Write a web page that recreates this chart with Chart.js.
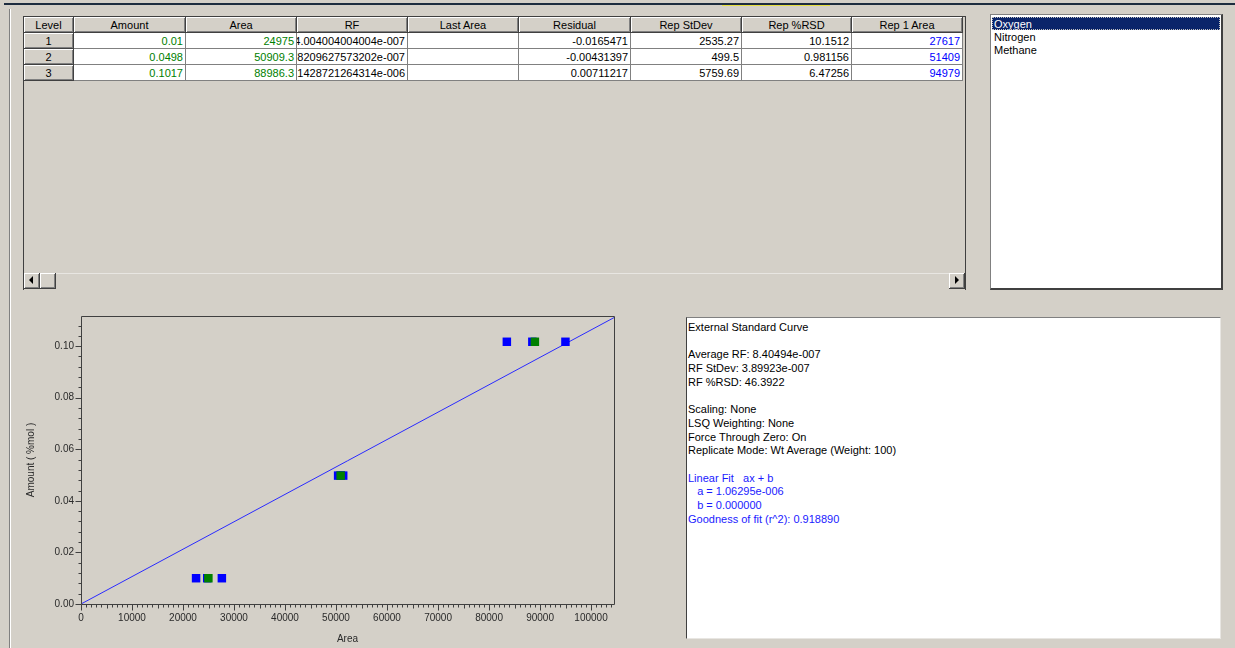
<!DOCTYPE html>
<html>
<head>
<meta charset="utf-8">
<script src="https://cdn.jsdelivr.net/npm/chart.js@4/dist/chart.umd.min.js"></script>
<style>
  html, body { margin: 0; padding: 0; }
  body {
    width: 1235px; height: 648px; overflow: hidden; position: relative;
    background: #d4d0c8; font: 11px "Liberation Sans", Arial, sans-serif; color: #000;
  }
  .abs { position: absolute; box-sizing: border-box; }
  #grid { left: 23px; top: 16px; width: 943px; height: 274px; border: 1px solid #404040; background: #d4d0c8; }
  .cell { position: absolute; box-sizing: border-box; height: 16px; line-height: 17px; white-space: nowrap; overflow: hidden; }
  .head { background: #d4d0c8; text-align: center; border-right: 1px solid #404040; border-bottom: 1px solid #404040;
          box-shadow: inset 1px 1px 0 #fff, inset -1px -1px 0 #808080; }
  .data { background: #fff; border-right: 1px solid #808080; border-bottom: 1px solid #808080;
          display: flex; justify-content: flex-end; padding-right: 2px; }
  .btn { position: absolute; box-sizing: border-box; background: #d4d0c8;
         border-right: 1px solid #404040; border-bottom: 1px solid #404040;
         box-shadow: inset 1px 1px 0 #fff, inset -1px -1px 0 #808080; }
  .tri { position: absolute; width: 0; height: 0; border-top: 4px solid transparent; border-bottom: 4px solid transparent; }
  #list { left: 990px; top: 14px; width: 233px; height: 276px; background: #fff;
          border-top: 1px solid #808080; border-left: 1px solid #808080;
          border-right: 2px solid #404040; border-bottom: 2px solid #404040; }
  .item { position: absolute; left: 1px; right: 1px; height: 13px; line-height: 14px; padding-left: 2px; }
  .item.sel { background: #0a246a; color: #fff; outline: 1px dotted #c0c0c0; outline-offset: -1px; }
  #info { left: 686px; top: 317px; width: 535px; height: 322px; background: #fff;
          border-top: 1px solid #808080; border-left: 1px solid #404040;
          border-right: 1px solid #e8e6e2; border-bottom: 1px solid #e8e6e2;
          padding: 3px 0 0 1px; white-space: pre; line-height: 13.7px; }
  #info .fit { color: #1a1aff; }
  #plot { left: 10px; top: 300px; }
</style>
</head>
<body>
<div class="abs" style="left:4px;top:3px;width:1231px;height:2px;background:#1d2c3f"></div>
<div class="abs" style="left:722px;top:5px;width:108px;height:1px;background:#e8e040"></div>
<div class="abs" style="left:9px;top:9px;width:1px;height:639px;background:#808080"></div>
<div class="abs" style="left:10px;top:9px;width:1px;height:639px;background:#fff"></div>

<div id="grid" class="abs"></div>

<div id="list" class="abs"></div>

<div id="info" class="abs">External Standard Curve

Average RF: 8.40494e-007
RF StDev: 3.89923e-007
RF %RSD: 46.3922

Scaling: None
LSQ Weighting: None
Force Through Zero: On
Replicate Mode: Wt Average (Weight: 100)

<span class="fit">Linear Fit   ax + b
   a = 1.06295e-006
   b = 0.000000
Goodness of fit (r^2): 0.918890</span></div>

<canvas id="plot" class="abs" width="640" height="345"></canvas>

<script>
// calibration levels
const levels = [1, 2, 3];
const amounts = [0.01, 0.0498, 0.1017];
const areas = [24975, 50909.3, 88986.3];
const rfText = ['4.004004004004e-007', '9.78209627573202e-007', '1.1428721264314e-006'];
const residuals = [-0.0165471, -0.00431397, 0.00711217];
const repStdev = [2535.27, 499.5, 5759.69];
const repRsd = [10.1512, 0.981156, 6.47256];
// replicate injections per level (first one is "Rep 1 Area")
const repAreas = [
  [27617, 22562, 24746],
  [51409, 50410, 50909],
  [94979, 83491, 88489]
];
const compounds = ['Oxygen', 'Nitrogen', 'Methane'];

// linear fit through zero
const fitA = 1.06295e-6;
const fitB = 0;

// axes
const xMax = 104500;
const yMax = 0.1117;
const xTicks = [0, 10000, 20000, 30000, 40000, 50000, 60000, 70000, 80000, 90000, 100000];
const yTicks = [0, 0.02, 0.04, 0.06, 0.08, 0.10];

// ---- results grid ----
const grid = document.getElementById('grid');
const colHeads = ['Level', 'Amount', 'Area', 'RF', 'Last Area', 'Residual', 'Rep StDev', 'Rep %RSD', 'Rep 1 Area'];
const colWidths = [50, 112, 111, 111, 111, 112, 111, 110, 111];

function addCell(cls, x, y, w, text, color) {
  const d = document.createElement('div');
  d.className = 'cell ' + cls;
  d.style.left = x + 'px';
  d.style.top = y + 'px';
  d.style.width = w + 'px';
  if (cls === 'data') {
    const s = document.createElement('span');
    s.textContent = text;
    if (color) s.style.color = color;
    d.appendChild(s);
  } else {
    d.textContent = text;
  }
  grid.appendChild(d);
}

let x = 0;
colHeads.forEach((h, c) => { addCell('head', x, 0, colWidths[c], h); x += colWidths[c]; });

levels.forEach((lv, i) => {
  const row = [lv, amounts[i], areas[i], rfText[i], '', residuals[i], repStdev[i], repRsd[i], repAreas[i][0]];
  const colors = [null, '#008000', '#008000', null, null, null, null, null, '#0000ff'];
  let cx = 0;
  row.forEach((v, c) => {
    addCell(c === 0 ? 'head' : 'data', cx, 16 * (i + 1), colWidths[c], String(v), colors[c]);
    cx += colWidths[c];
  });
});

// horizontal scrollbar
function addBtn(x, y, w, h) {
  const b = document.createElement('div');
  b.className = 'btn';
  Object.assign(b.style, { left: x + 'px', top: y + 'px', width: w + 'px', height: h + 'px' });
  grid.appendChild(b);
  return b;
}
const track = document.createElement('div');
Object.assign(track.style, { position: 'absolute', left: '0px', top: '256px', width: '941px', height: '16px',
  background: '#d4d0c8', borderTop: '1px solid #e8e6e2' });
grid.appendChild(track);
const lb = addBtn(0, 256, 16, 16);
const lt = document.createElement('div');
lt.className = 'tri';
Object.assign(lt.style, { left: '5px', top: '3px', borderRight: '4px solid #000' });
lb.appendChild(lt);
addBtn(16, 256, 16, 16);
const rb = addBtn(925, 256, 16, 16);
const rt = document.createElement('div');
rt.className = 'tri';
Object.assign(rt.style, { left: '6px', top: '3px', borderLeft: '4px solid #000' });
rb.appendChild(rt);

// ---- compound list ----
const list = document.getElementById('list');
compounds.forEach((name, i) => {
  const d = document.createElement('div');
  d.className = 'item' + (i === 0 ? ' sel' : '');
  d.style.top = (2 + 13 * i) + 'px';
  d.textContent = name;
  list.appendChild(d);
});

// ---- calibration plot ----
const tickFont = { family: '"Liberation Sans", Arial, sans-serif', size: 10 };
const tickColor = '#2a2a2a';

const axisFrame = {
  id: 'axisFrame',
  afterDraw(chart) {
    const { ctx, chartArea: a, scales } = chart;
    const sx = scales.x, sy = scales.y;
    const L = Math.round(a.left) + 0.5, T = Math.round(a.top) + 0.5;
    const R = Math.round(a.right) + 0.5, B = Math.round(a.bottom) + 0.5;
    ctx.save();
    ctx.strokeStyle = '#404040';
    ctx.lineWidth = 1;
    ctx.beginPath();
    ctx.rect(L, T, R - L, B - T);
    for (let v = 0; v <= sx.max; v += 1000) {
      const px = Math.round(sx.getPixelForValue(v)) + 0.5;
      const len = v % 10000 === 0 ? 6 : (v % 5000 === 0 ? 4 : 3);
      ctx.moveTo(px, B);
      ctx.lineTo(px, B + len);
    }
    for (let i = 0; i * 0.004 <= sy.max + 1e-9; i++) {
      const py = Math.round(sy.getPixelForValue(i * 0.004)) + 0.5;
      const len = i % 5 === 0 ? 6 : 3;
      ctx.moveTo(L - len, py);
      ctx.lineTo(L, py);
    }
    ctx.stroke();
    ctx.restore();
  }
};

new Chart(document.getElementById('plot'), {
  type: 'scatter',
  data: {
    datasets: [
      {
        label: 'Average',
        data: areas.map((a, i) => ({ x: a, y: amounts[i] })),
        backgroundColor: '#008000',
        pointStyle: 'rect',
        pointRadius: 6,
        borderWidth: 0
      },
      {
        label: 'Replicates',
        data: repAreas.flatMap((reps, i) => reps.map(a => ({ x: a, y: amounts[i] }))),
        backgroundColor: '#0000ff',
        pointStyle: 'rect',
        pointRadius: 6,
        borderWidth: 0
      },
      {
        type: 'line',
        label: 'Fit',
        data: [{ x: 0, y: fitB }, { x: xMax, y: fitA * xMax + fitB }],
        borderColor: '#2a2aff',
        borderWidth: 1,
        pointRadius: 0,
        fill: false
      }
    ]
  },
  options: {
    responsive: false,
    animation: false,
    devicePixelRatio: 1,
    layout: { padding: { left: 0, top: 16, right: 36, bottom: 0 } },
    plugins: { legend: { display: false }, tooltip: { enabled: false } },
    scales: {
      x: {
        type: 'linear',
        min: 0,
        max: xMax,
        grid: { display: false, drawTicks: false },
        border: { display: false },
        ticks: { padding: 8, color: tickColor, font: tickFont, maxRotation: 0, autoSkip: false,
                 callback: v => String(v) },
        afterBuildTicks: s => { s.ticks = xTicks.map(v => ({ value: v })); },
        afterFit: s => { s.height = 41; },
        title: { display: true, text: 'Area', color: tickColor, font: tickFont, padding: { top: 7, bottom: 0 } }
      },
      y: {
        type: 'linear',
        min: 0,
        max: yMax,
        grid: { display: false, drawTicks: false },
        border: { display: false },
        ticks: { padding: 7, color: tickColor, font: tickFont, callback: v => v.toFixed(2) },
        afterBuildTicks: s => { s.ticks = yTicks.map(v => ({ value: v })); },
        afterFit: s => { s.width = 71; },
        title: { display: true, text: 'Amount ( %mol )', color: tickColor, font: tickFont, padding: { top: 15, bottom: 0 } }
      }
    }
  },
  plugins: [axisFrame]
});
</script>
</body>
</html>
